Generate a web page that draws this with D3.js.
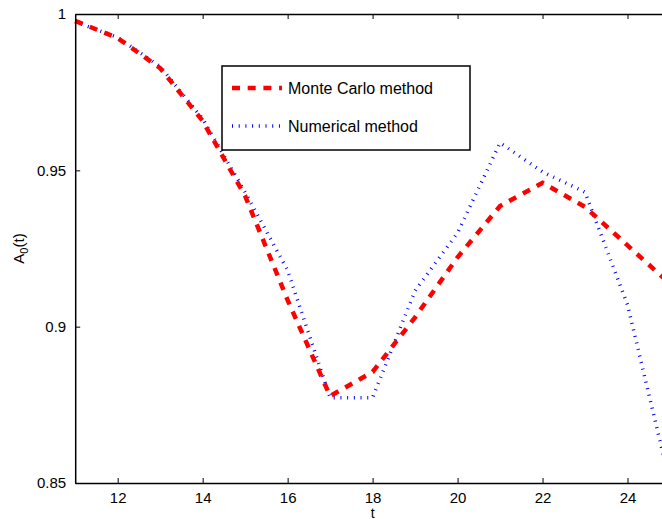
<!DOCTYPE html>
<html>
<head>
<meta charset="utf-8">
<script src="https://cdn.jsdelivr.net/npm/d3@7.9.0/dist/d3.min.js"></script>
<style>
  body { margin: 0; background: #fff; }
  svg { display: block; font-family: "Liberation Sans", Arial, sans-serif; }
</style>
</head>
<body>
<div id="chart"></div>
<script>
// Chart data
const tValues = [11, 12, 13, 14, 15, 16, 17, 18, 19, 20, 21, 22, 23, 24, 25];
const monteCarlo = [0.9978, 0.9923, 0.9827, 0.9658, 0.9418, 0.9085, 0.8778, 0.8855, 0.9030, 0.9222, 0.9386, 0.9460, 0.9383, 0.9260, 0.9137];
const numerical = [0.9975, 0.9925, 0.9832, 0.9665, 0.9430, 0.9180, 0.8773, 0.8773, 0.9115, 0.9300, 0.9588, 0.9495, 0.9430, 0.9070, 0.8500];
const xTicks = [12, 14, 16, 18, 20, 22, 24];
const yTicks = [0.85, 0.9, 0.95, 1];
const legendLabels = ['Monte Carlo method', 'Numerical method'];

const width = 662;
const height = 519;

// Plot box (right side runs past the window, like the original)
const box = { left: 75.2, top: 14, right: 670, bottom: 483 };

const svg = d3.select('#chart')
    .append('svg')
    .attr('width', width)
    .attr('height', height);

const xScale = d3.scaleLinear().domain([11, 25]).range([box.left, box.right]);
const yScale = d3.scaleLinear().domain([0.85, 1]).range([box.bottom, box.top]);

// Series lines
const line = (vals) => d3.line()
    .x((d, i) => xScale(tValues[i]))
    .y((d) => yScale(d))(vals);

svg.append('path')
    .attr('d', line(numerical))
    .attr('fill', 'none')
    .attr('stroke', '#0000ff')
    .attr('stroke-width', 3.5)
    .attr('stroke-dasharray', '1,5.7');

svg.append('path')
    .attr('d', line(monteCarlo))
    .attr('fill', 'none')
    .attr('stroke', '#ff0000')
    .attr('stroke-width', 4.5)
    .attr('stroke-dasharray', '8,7.7');

// Axes (MATLAB style: ticks inside, mirrored on top)
const fmtY = (d) => (d === 1 ? '1' : String(d));

const xAxis = svg.append('g')
    .attr('transform', `translate(0,${box.bottom})`)
    .call(d3.axisBottom(xScale).tickValues(xTicks).tickSizeInner(-5).tickSizeOuter(0).tickPadding(9));
const xTop = svg.append('g')
    .attr('transform', `translate(0,${box.top})`)
    .call(d3.axisTop(xScale).tickValues(xTicks).tickSizeInner(-5).tickSizeOuter(0).tickFormat(''));
const yAxis = svg.append('g')
    .attr('transform', `translate(${box.left},0)`)
    .call(d3.axisLeft(yScale).tickValues(yTicks).tickFormat(fmtY).tickSizeInner(-5).tickSizeOuter(0).tickPadding(9));
const yRight = svg.append('g')
    .attr('transform', `translate(${box.right},0)`)
    .call(d3.axisRight(yScale).tickValues(yTicks).tickSizeInner(-5).tickSizeOuter(0).tickFormat(''));

[xAxis, xTop, yAxis, yRight].forEach((g) => {
    g.select('.domain').attr('stroke', '#000').attr('stroke-width', 1.5);
    g.selectAll('.tick line').attr('stroke', '#000').attr('stroke-width', 1);
    g.selectAll('.tick text')
        .attr('fill', '#000')
        .style('font-size', '15px')
        .style('font-family', '"Liberation Sans", Arial, sans-serif');
});

// Axis titles
svg.append('text')
    .attr('x', (box.left + box.right) / 2)
    .attr('y', 518)
    .attr('text-anchor', 'middle')
    .style('font-size', '14px')
    .text('t');

const yLabel = svg.append('text')
    .attr('transform', `translate(24,${(box.top + box.bottom) / 2}) rotate(-90)`)
    .attr('text-anchor', 'middle')
    .style('font-size', '15px');
yLabel.append('tspan').text('A');
yLabel.append('tspan').attr('dy', 4).style('font-size', '11px').text('0');
yLabel.append('tspan').attr('dy', -4).text('(t)');

// Legend
const legend = svg.append('g');
legend.append('rect')
    .attr('x', 222)
    .attr('y', 66)
    .attr('width', 248)
    .attr('height', 84)
    .attr('fill', '#fff')
    .attr('stroke', '#000')
    .attr('stroke-width', 1.5);

const legendItems = [
    { label: legendLabels[0], color: '#ff0000', width: 4.5, dash: '8,7.7', y: 88 },
    { label: legendLabels[1], color: '#0000ff', width: 3.5, dash: '1,5.7', y: 126 },
];

legendItems.forEach((item) => {
    legend.append('line')
        .attr('x1', 232).attr('x2', 282)
        .attr('y1', item.y).attr('y2', item.y)
        .attr('stroke', item.color)
        .attr('stroke-width', item.width)
        .attr('stroke-dasharray', item.dash);
    legend.append('text')
        .attr('x', 288)
        .attr('y', item.y + 6)
        .style('font-size', '16px')
        .text(item.label);
});
</script>
</body>
</html>
